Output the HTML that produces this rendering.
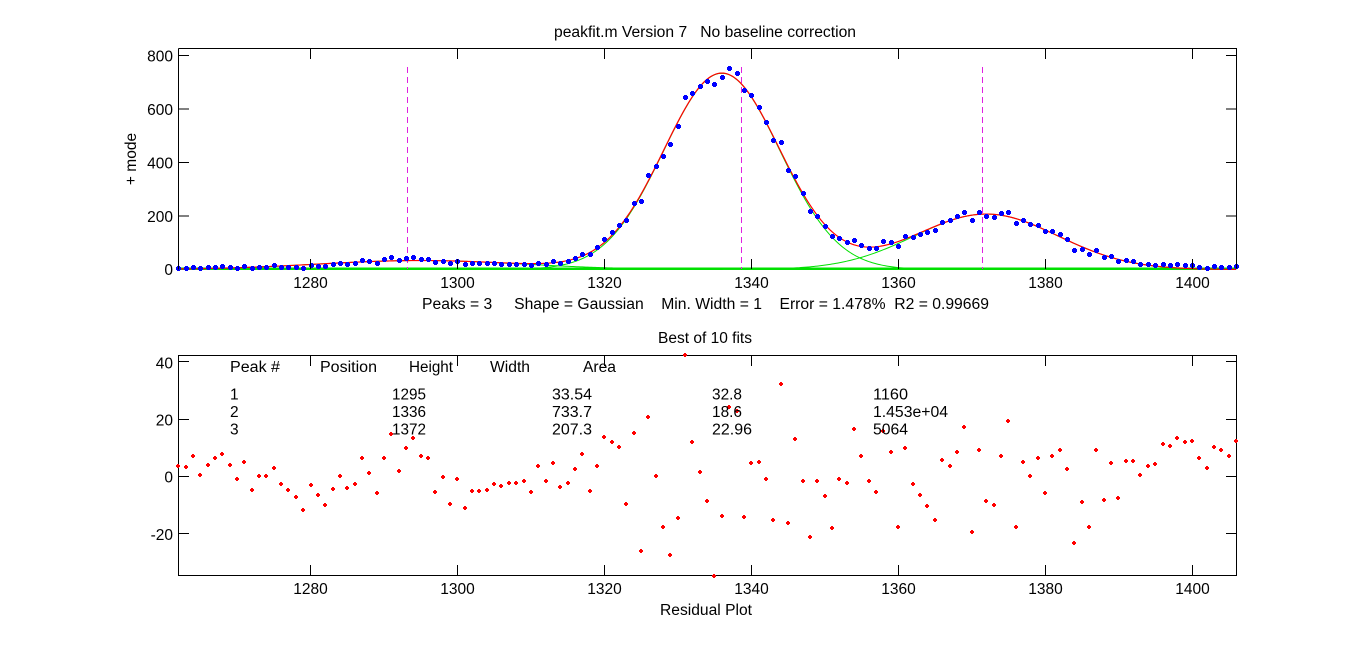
<!DOCTYPE html>
<html>
<head>
<meta charset="utf-8">
<style>
html,body{margin:0;padding:0;background:#fff;}
svg{display:block;}
text{font-family:"Liberation Sans",Arial,sans-serif;font-size:15.5px;fill:#000;white-space:pre;}
</style>
</head>
<body>
<svg id="s" width="1366" height="646" viewBox="0 0 1366 646" xmlns="http://www.w3.org/2000/svg">
<rect x="0" y="0" width="1366" height="646" fill="#fff"/>

<!-- ===== TOP AXES ===== -->
<g id="topGreen" fill="none" stroke="#00e000" stroke-width="1"></g>
<line x1="178.5" y1="268.5" x2="1236.5" y2="268.5" stroke="#00e000" stroke-width="2"/>
<g id="topDash" stroke="#e020e0" stroke-width="1" stroke-dasharray="6,4">
  <line x1="407.5" y1="67" x2="407.5" y2="269"/>
  <line x1="741.5" y1="67" x2="741.5" y2="269"/>
  <line x1="982.5" y1="67" x2="982.5" y2="269"/>
</g>
<path id="topRed" fill="none" stroke="#ff0000" stroke-width="1.2"/>
<g id="topPts" fill="#0000ff"></g>

<g stroke="#000" stroke-width="1" fill="none">
  <path d="M178.5 48.5 H1236.5 V268.5 M178.5 48.5 V269.5"/>
  <!-- x ticks -->
  <path d="M310.5 269 v-10 M457.5 269 v-10 M604.5 269 v-10 M751.5 269 v-10 M898.5 269 v-10 M1045.5 269 v-10 M1192.5 269 v-10"/>
  <path d="M310.5 49 v10 M457.5 49 v10 M604.5 49 v10 M751.5 49 v10 M898.5 49 v10 M1045.5 49 v10 M1192.5 49 v10"/>
  <!-- y ticks -->
  <path d="M179 55.5 h10 M179 109 h10 M179 162.5 h10 M179 216 h10"/>
  <path d="M1236 55.5 h-10 M1236 109 h-10 M1236 162.5 h-10 M1236 216 h-10"/>
</g>

<text x="705" y="37" text-anchor="middle" textLength="302" lengthAdjust="spacingAndGlyphs">peakfit.m Version 7   No baseline correction</text>
<text x="173" y="61.5" text-anchor="end">800</text>
<text x="173" y="115" text-anchor="end">600</text>
<text x="173" y="168.5" text-anchor="end">400</text>
<text x="173" y="222" text-anchor="end">200</text>
<text x="173" y="275" text-anchor="end">0</text>
<text x="310.5" y="288" text-anchor="middle">1280</text>
<text x="457.5" y="288" text-anchor="middle">1300</text>
<text x="604.5" y="288" text-anchor="middle">1320</text>
<text x="751.5" y="288" text-anchor="middle">1340</text>
<text x="898.5" y="288" text-anchor="middle">1360</text>
<text x="1045.5" y="288" text-anchor="middle">1380</text>
<text x="1192.5" y="288" text-anchor="middle">1400</text>
<text transform="translate(136,159) rotate(-90)" text-anchor="middle">+ mode</text>
<text x="422" y="309" textLength="567" lengthAdjust="spacingAndGlyphs">Peaks = 3     Shape = Gaussian    Min. Width = 1    Error = 1.478%  R2 = 0.99669</text>

<!-- ===== BOTTOM AXES ===== -->
<g stroke="#000" stroke-width="1" fill="none">
  <path d="M178.5 355.5 H1236.5 V575.5 H178.5 Z"/>
  <path d="M310.5 575 v-10 M457.5 575 v-10 M604.5 575 v-10 M751.5 575 v-10 M898.5 575 v-10 M1045.5 575 v-10 M1192.5 575 v-10"/>
  <path d="M310.5 356 v10 M457.5 356 v10 M604.5 356 v10 M751.5 356 v10 M898.5 356 v10 M1045.5 356 v10 M1192.5 356 v10"/>
  <path d="M179 361.5 h10 M179 419.5 h10 M179 476.5 h10 M179 533.5 h10"/>
  <path d="M1236 361.5 h-10 M1236 419.5 h-10 M1236 476.5 h-10 M1236 533.5 h-10"/>
</g>
<g id="botPts" fill="none" stroke="#ff0000" stroke-width="2"></g>

<text x="705" y="343" text-anchor="middle" textLength="94" lengthAdjust="spacingAndGlyphs">Best of 10 fits</text>
<text x="173" y="368.5" text-anchor="end">40</text>
<text x="173" y="425.5" text-anchor="end">20</text>
<text x="173" y="482.5" text-anchor="end">0</text>
<text x="173" y="540" text-anchor="end">-20</text>
<text x="310.5" y="594" text-anchor="middle">1280</text>
<text x="457.5" y="594" text-anchor="middle">1300</text>
<text x="604.5" y="594" text-anchor="middle">1320</text>
<text x="751.5" y="594" text-anchor="middle">1340</text>
<text x="898.5" y="594" text-anchor="middle">1360</text>
<text x="1045.5" y="594" text-anchor="middle">1380</text>
<text x="1192.5" y="594" text-anchor="middle">1400</text>
<text x="706" y="615" text-anchor="middle" textLength="92" lengthAdjust="spacingAndGlyphs">Residual Plot</text>

<!-- table -->
<text x="230" y="372" textLength="50" lengthAdjust="spacingAndGlyphs">Peak #</text>
<text x="320" y="372" textLength="57" lengthAdjust="spacingAndGlyphs">Position</text>
<text x="409" y="372" textLength="44" lengthAdjust="spacingAndGlyphs">Height</text>
<text x="490" y="372" textLength="40" lengthAdjust="spacingAndGlyphs">Width</text>
<text x="583" y="372" textLength="33" lengthAdjust="spacingAndGlyphs">Area</text>

<text x="230" y="399.5">1</text>
<text x="230" y="417">2</text>
<text x="230" y="434.5">3</text>
<text x="392" y="399.5" textLength="34" lengthAdjust="spacingAndGlyphs">1295</text>
<text x="392" y="417" textLength="34" lengthAdjust="spacingAndGlyphs">1336</text>
<text x="392" y="434.5" textLength="34" lengthAdjust="spacingAndGlyphs">1372</text>
<text x="552" y="399.5" textLength="40" lengthAdjust="spacingAndGlyphs">33.54</text>
<text x="552" y="417" textLength="40" lengthAdjust="spacingAndGlyphs">733.7</text>
<text x="552" y="434.5" textLength="40" lengthAdjust="spacingAndGlyphs">207.3</text>
<text x="712" y="399.5" textLength="30" lengthAdjust="spacingAndGlyphs">32.8</text>
<text x="712" y="417" textLength="30" lengthAdjust="spacingAndGlyphs">18.6</text>
<text x="712" y="434.5" textLength="40" lengthAdjust="spacingAndGlyphs">22.96</text>
<text x="873" y="399.5" textLength="35" lengthAdjust="spacingAndGlyphs">1160</text>
<text x="873" y="417" textLength="75" lengthAdjust="spacingAndGlyphs">1.453e+04</text>
<text x="873" y="434.5" textLength="35" lengthAdjust="spacingAndGlyphs">5064</text>
</svg>

<script>
(function(){
  var NS="http://www.w3.org/2000/svg";
  var res=[3.7,3.4,7.2,0.6,4.1,6.5,7.9,4.1,-0.8,5.1,-4.7,0.2,0.2,3.0,-2.6,-4.7,-7.1,-11.6,
  -2.9,-6.4,-9.9,-4.3,0.2,-4.0,-2.6,6.5,1.3,-5.7,6.5,14.9,2.0,9.7,13.5,7.2,6.5,-5.3,-0.1,-9.5,
  -0.8,-10.9,-5.0,-5.0,-4.7,-2.6,-3.3,-2.2,-2.2,-1.5,-5.3,3.7,
  -1.5,4.8,-3.6,-2.2,2.7,7.9,-5.0,3.7,13.8,12.1,10.3,-9.5,15.2,-25.9,20.8,0.2,-17.6,-27.3,-14.4,
  42.1,12.1,1.6,-8.5,-34.7,-13.7,24.0,22.9,-14.1,4.8,5.1,-0.8,-15.1,32.3,-16.2,13.1,-1.5,-21.0,
  -1.5,-6.7,-17.9,-0.8,-2.2,16.3,6.9,-1.5,-5.3,15.6,8.3,-17.6,9.7,-2.6,-6.4,-10.2,-15.1,
  5.8,3.7,8.6,17.3,-19.3,9.0,-8.5,-9.9,7.2,19.1,-17.6,5.1,0.2,6.2,-5.7,6.9,9.0,2.7,-23.1,-8.8,
  -17.6,9.3,-8.1,4.8,-7.4,5.5,5.5,0.6,3.7,4.4,11.4,10.7,13.5,12.1,12.4,6.2,3.0,10.3,9.0,7.2,12.4];
  var peaks=[[1295,33.54,32.8],[1336,733.7,18.6],[1372,207.3,22.96]];
  function g(x,p){var d=(x-p[0])/(0.60056120439323*p[2]);return p[1]*Math.exp(-d*d);}
  function model(x){var s=0;for(var i=0;i<3;i++)s+=g(x,peaks[i]);return s;}
  function X(v){return 178.3+(v-1262)*7.345;}
  function YT(v){return 269.5-v*0.2675;}
  function YB(v){return 476.3-v*2.872;}
  var d="";
  for(var x=1262;x<=1406.001;x+=0.25){d+=(d?"L":"M")+X(x).toFixed(2)+" "+YT(model(x)).toFixed(2);}
  document.getElementById("topRed").setAttribute("d",d);
  var gg=document.getElementById("topGreen");
  for(var k=0;k<3;k++){
    var dd="";
    for(var x2=1262;x2<=1406.001;x2+=0.25){dd+=(dd?"L":"M")+X(x2).toFixed(2)+" "+YT(g(x2,peaks[k])).toFixed(2);}
    var p=document.createElementNS(NS,"path");p.setAttribute("d",dd);gg.appendChild(p);
  }
  var tp=document.getElementById("topPts"), bp=document.getElementById("botPts");
  var bd="";
  for(var i=0;i<res.length;i++){
    var xv=1262+i;
    var cx=Math.round(X(xv)), cy=Math.round(YT(model(xv)+res[i]));
    var r1=document.createElementNS(NS,"rect");
    r1.setAttribute("x",cx-2);r1.setAttribute("y",cy-1);r1.setAttribute("width",5);r1.setAttribute("height",3);
    tp.appendChild(r1);
    var r2=document.createElementNS(NS,"rect");
    r2.setAttribute("x",cx-1);r2.setAttribute("y",cy-2);r2.setAttribute("width",3);r2.setAttribute("height",5);
    tp.appendChild(r2);
    var bx=Math.round(X(xv)), by=Math.round(YB(res[i]));
    bd+="M"+(bx-2)+" "+by+"h4M"+bx+" "+(by-2)+"v4";
  }
  var bpth=document.createElementNS(NS,"path");bpth.setAttribute("d",bd);bp.appendChild(bpth);
})();
</script>
</body>
</html>
